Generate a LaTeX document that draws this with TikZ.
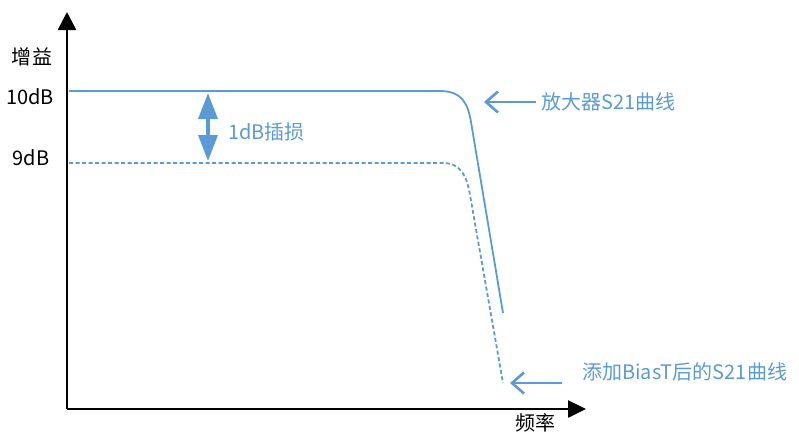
\documentclass[tikz,border=0pt]{standalone}
\usepackage{fontspec}
\setmainfont{Noto Sans CJK SC}
\usetikzlibrary{arrows.meta}
\definecolor{cblue}{HTML}{5B9BD5}
\begin{document}
\begin{tikzpicture}[x=1pt,y=-1pt,
  axis/.style={line width=2.5pt,black,-{Triangle[length=18pt,width=18pt]}},
  curve/.style={line width=1.8pt,cblue},
  dcurve/.style={line width=1.8pt,cblue,dash pattern=on 4pt off 2.5pt},
  pointer/.style={line width=2.6pt,cblue,-{Straight Barb[length=12pt,width=21pt]}},
  lbl/.style={font=\fontsize{20}{23}\selectfont,inner sep=0pt},
  blbl/.style={lbl,text=cblue}]
\useasboundingbox (0,0) rectangle (799,440);
% axes
\coordinate (O) at (67,409);
\coordinate (Ytip) at (67,12);
\coordinate (Xtip) at (586,409);
\draw[axis] (O) -- (Ytip);
\draw[axis,-{Triangle[length=18pt,width=17pt]}] (O) -- (Xtip);
% labels
\node[lbl] (gain) at (32,57) {增益};
\node[lbl] (t10) at (30,97) {10dB};
\node[lbl] (t9) at (31,158) {9dB};
\node[lbl] (freq) at (535,423) {频率};
% curves
\coordinate (s0) at (69,91);
\coordinate (s1) at (440,91);
\coordinate (s2) at (471,122);
\coordinate (s3) at (503,313);
\draw[curve] (s0) -- (s1) .. controls (463,91) and (468,105) .. (s2) -- (s3);
\coordinate (d0) at (69,163);
\coordinate (d1) at (443,163);
\coordinate (d2) at (470,195);
\coordinate (d3) at (503,383);
\draw[dcurve] (d0) -- (d1) .. controls (462,163) and (467,178) .. (d2) -- (d3);
% insertion loss double arrow
\coordinate (ia) at (208,93);
\coordinate (ib) at (208,161);
\draw[line width=3.5pt,cblue,{Triangle[length=26pt,width=19pt]}-{Triangle[length=26pt,width=19pt]}] (ia) -- (ib);
\node[blbl,anchor=west] (loss) at (228,132) {1dB插损};
% pointers
\node[blbl,anchor=west] (amp) at (541,102) {放大器S21曲线};
\coordinate (ampTip) at (484,102);
\draw[pointer] (amp.west) ++(-5,0) coordinate (ampTail) -- (ampTip);
\node[blbl,anchor=west] (bias) at (582,372) {添加BiasT后的S21曲线};
\coordinate (biasTip) at (510,383);
\coordinate (biasTail) at (562,383);
\draw[pointer] (biasTail) -- (biasTip);
\end{tikzpicture}
\end{document}
